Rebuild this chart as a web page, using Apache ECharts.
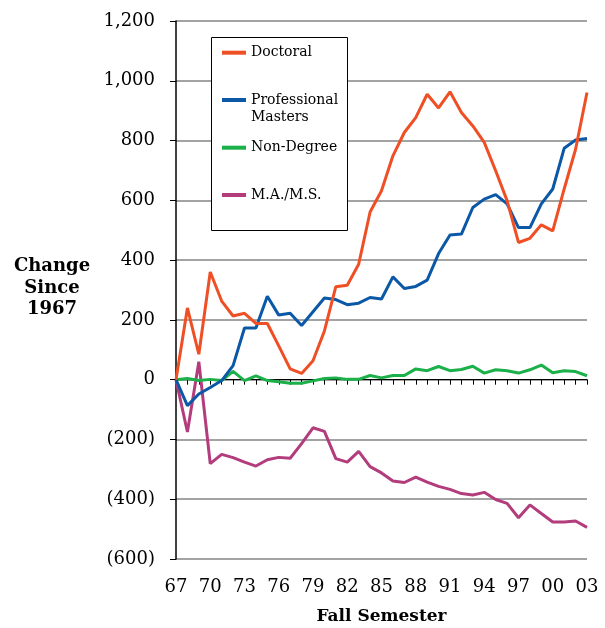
<!DOCTYPE html>
<html>
<head>
<meta charset="utf-8">
<script src="https://cdn.jsdelivr.net/npm/echarts@6/dist/echarts.min.js"></script>
<style>
  html, body { margin: 0; padding: 0; background: #fff; }
  #main { width: 605px; height: 628px; }
</style>
</head>
<body>
<div id="main"></div>
<script>
// fall semester, 1967 - 2003
const years = ['67','68','69','70','71','72','73','74','75','76','77','78','79','80','81','82','83','84','85',
  '86','87','88','89','90','91','92','93','94','95','96','97','98','99','00','01','02','03'];

// change since 1967
const doctoral = [0, 240, 85, 360, 263, 213, 222, 188, 188, 113, 36, 21, 63, 163, 311, 316, 386, 561, 632,
  749, 827, 877, 955, 909, 963, 894, 849, 794, 699, 599, 459, 473, 518, 498, 638, 771, 961];
const professional = [0, -87, -48, -26, -3, 47, 173, 173, 279, 216, 222, 181, 227, 273, 268, 251, 256, 275, 270,
  344, 305, 312, 333, 422, 484, 487, 576, 604, 619, 588, 509, 509, 588, 638, 774, 802, 807];
const nonDegree = [0, 4, -3, 1, -3, 28, -3, 13, -3, -7, -12, -12, -4, 4, 6, 1, 1, 14, 6,
  14, 14, 36, 30, 44, 30, 34, 45, 22, 33, 30, 22, 33, 49, 23, 30, 27, 13];
const maMs = [0, -175, 60, -281, -250, -261, -276, -289, -268, -260, -263, -214, -161, -173, -264, -276, -240, -291, -312,
  -339, -344, -326, -343, -357, -367, -381, -386, -377, -401, -414, -462, -419, -448, -476, -476, -473, -494];

const seriesNames = ['Doctoral', 'Professional Masters', 'Non-Degree', 'M.A./M.S.'];
const seriesColors = ['#ef4f25', '#0b58a6', '#1bb04a', '#b23c7c'];
const seriesValues = [doctoral, professional, nonDegree, maMs];

const serif = 'DejaVu Serif';

function fmtNum(v) {
  const s = String(Math.abs(v)).replace(/\B(?=(\d{3})+(?!\d))/g, ',');
  return v < 0 ? '(' + s + ')' : s;
}

// one small legend per entry so each can sit where the original has it
const legendCenters = [52.7, 100, 147.7, 195];
const legends = seriesNames.map((name, i) => {
  const twoLine = name === 'Professional Masters';
  return {
    data: [name],
    left: 222,
    // the two-line entry gets an empty first line so "Professional" lines up with its swatch
    top: twoLine ? legendCenters[i] - 25.5 : legendCenters[i] - 8.5,
    padding: 0,
    icon: 'rect',
    itemWidth: 24,
    itemHeight: 4,
    selectedMode: false,
    z: 5,
    formatter: n => n === 'Professional Masters' ? ' \nProfessional\nMasters' : n,
    textStyle: {
      fontFamily: serif,
      fontSize: 14,
      lineHeight: 17,
      color: '#000'
    }
  };
});

const chart = echarts.init(document.getElementById('main'));
chart.setOption({
  animation: false,
  backgroundColor: '#fff',
  title: {
    text: 'Change\nSince\n1967',
    left: 52,
    top: 256,
    padding: 0,
    textAlign: 'center',
    textStyle: {
      fontFamily: serif,
      fontSize: 18,
      fontWeight: 'bold',
      lineHeight: 21.5,
      color: '#000'
    }
  },
  graphic: [{
    type: 'rect',
    left: 211,
    top: 37,
    z: 3,
    shape: { width: 136, height: 193 },
    style: { fill: '#fff', stroke: '#000', lineWidth: 1 }
  }],
  legend: legends,
  grid: { left: 176, right: 18, top: 21, bottom: 69, outerBoundsMode: 'none' },
  xAxis: [{
    type: 'category',
    data: years,
    boundaryGap: false,
    position: 'bottom',
    axisLine: { show: false, onZero: false },
    axisTick: { show: false },
    axisLabel: {
      interval: 2,
      margin: 19,
      fontFamily: serif,
      fontSize: 18,
      color: '#000'
    },
    splitLine: { show: false },
    name: 'Fall Semester',
    nameLocation: 'middle',
    nameGap: 49,
    nameTextStyle: { fontFamily: serif, fontSize: 17, fontWeight: 'bold', color: '#000' }
  }, {
    type: 'category',
    data: years,
    boundaryGap: false,
    position: 'bottom',
    axisLine: { show: true, onZero: true, lineStyle: { color: '#000', width: 1 } },
    axisTick: { show: true, interval: 0, length: 5, lineStyle: { color: '#000', width: 1 } },
    axisLabel: { show: false },
    splitLine: { show: false }
  }],
  yAxis: {
    type: 'value',
    min: -600,
    max: 1200,
    interval: 200,
    axisLine: { show: true, lineStyle: { color: '#000', width: 1.5 } },
    axisTick: { show: true, length: 6, lineStyle: { color: '#000', width: 1 } },
    axisLabel: {
      margin: 21,
      fontFamily: serif,
      fontSize: 18,
      color: '#000',
      formatter: fmtNum
    },
    splitLine: { show: true, lineStyle: { color: '#a3a3a3', width: 2 } }
  },
  series: seriesNames.map((name, i) => ({
    name: name,
    type: 'line',
    xAxisIndex: 0,
    data: seriesValues[i],
    symbol: 'none',
    color: seriesColors[i],
    lineStyle: { width: 3, color: seriesColors[i] },
    z: 2 + (i === 0 ? 1 : 0)
  })).reverse()
});
</script>
</body>
</html>
